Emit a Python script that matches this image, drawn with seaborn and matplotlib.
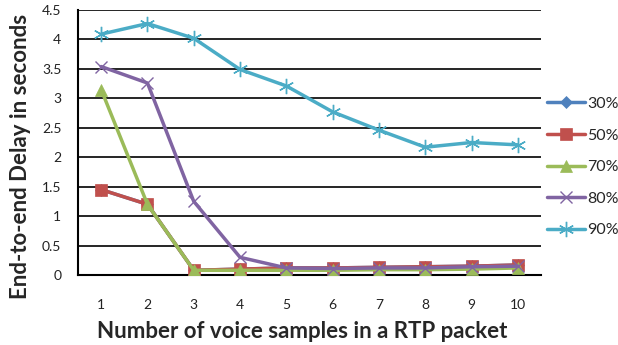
import matplotlib
matplotlib.use("Agg")
import matplotlib.pyplot as plt
import seaborn as sns
import numpy as np
import pandas as pd

samples = [1, 2, 3, 4, 5, 6, 7, 8, 9, 10]
load_30 = [1.45, 1.2, 0.08, 0.1, 0.12, 0.12, 0.13, 0.14, 0.15, 0.17]
load_50 = [1.45, 1.2, 0.08, 0.1, 0.12, 0.12, 0.13, 0.14, 0.15, 0.17]
load_70 = [3.15, 1.2, 0.08, 0.08, 0.08, 0.08, 0.09, 0.09, 0.1, 0.12]
load_80 = [3.54, 3.26, 1.25, 0.3, 0.12, 0.11, 0.12, 0.12, 0.14, 0.15]
load_90 = [4.09, 4.27, 4.02, 3.49, 3.21, 2.77, 2.46, 2.17, 2.25, 2.21]
series_names = ["30%", "50%", "70%", "80%", "90%"]
y_ticks = [0, 0.5, 1, 1.5, 2, 2.5, 3, 3.5, 4, 4.5]

sns.set_style("white")
plt.rcParams['font.family'] = ['Lato', 'DejaVu Sans']

fig = plt.figure(figsize=(6.18, 3.45), dpi=100)
ax = fig.add_axes([78/618, 1-275/345, (541-78)/618, (275-10)/345])

colors = ["#4F81BD", "#C0504D", "#9BBB59", "#8064A2", "#4BACC6"]
markers = ["D", "s", "^", "x", (6, 2, 0)]
msizes = [6, 9, 9, 9, 11]
data = [load_30, load_50, load_70, load_80, load_90]

for name, vals, c, m, ms in zip(series_names, data, colors, markers, msizes):
    df = pd.DataFrame({"x": samples, "y": vals})
    sns.lineplot(data=df, x="x", y="y", ax=ax, color=c, marker=m, markersize=ms,
                 markeredgecolor=c, markeredgewidth=1.0 if m in ("x",) or isinstance(m, tuple) else 0.5,
                 linewidth=2.5, label=name, zorder=3)

ax.set_xlim(0.5, 10.5)
ax.set_ylim(0, 4.5)
ax.set_yticks(y_ticks)
ax.set_yticklabels([f"{t:g}" for t in y_ticks], fontsize=10, color='#222222')
ax.set_xticks(samples)
ax.set_xticklabels([str(s) for s in samples], fontsize=10, color='#222222')
ax.set_xticks(np.arange(0.5, 11, 1), minor=True)
ax.tick_params(axis='x', which='major', length=0, pad=17)
ax.tick_params(axis='x', which='minor', length=5, width=1.5, color='black', direction='out')
ax.tick_params(axis='y', which='major', length=5, width=1.5, color='black', direction='out', pad=7)
ax.grid(axis='y', color='black', linewidth=1.2, zorder=0)
ax.grid(axis='x', visible=False)
for s in ['top', 'right']:
    ax.spines[s].set_visible(False)
for s in ['left', 'bottom']:
    ax.spines[s].set_color('black')
    ax.spines[s].set_linewidth(1.5)

ax.set_xlabel("Number of voice samples in a RTP packet", fontsize=16, fontweight='bold')
ax.xaxis.set_label_coords((302-78)/463, (275-321)/265)
ax.set_ylabel("End-to-end Delay in seconds", fontsize=16, fontweight='bold')
ax.yaxis.set_label_coords((31-78)/463, (275-156)/265)

handles, labels = ax.get_legend_handles_labels()
ax.legend(handles, labels, loc='center left', bbox_to_anchor=(547/618, 1-167/345),
          bbox_transform=fig.transFigure, frameon=False, fontsize=11.5,
          handlelength=2.37, handletextpad=0.15, labelspacing=1.09, borderpad=0, borderaxespad=0)

fig.savefig("out.png", dpi=100)
